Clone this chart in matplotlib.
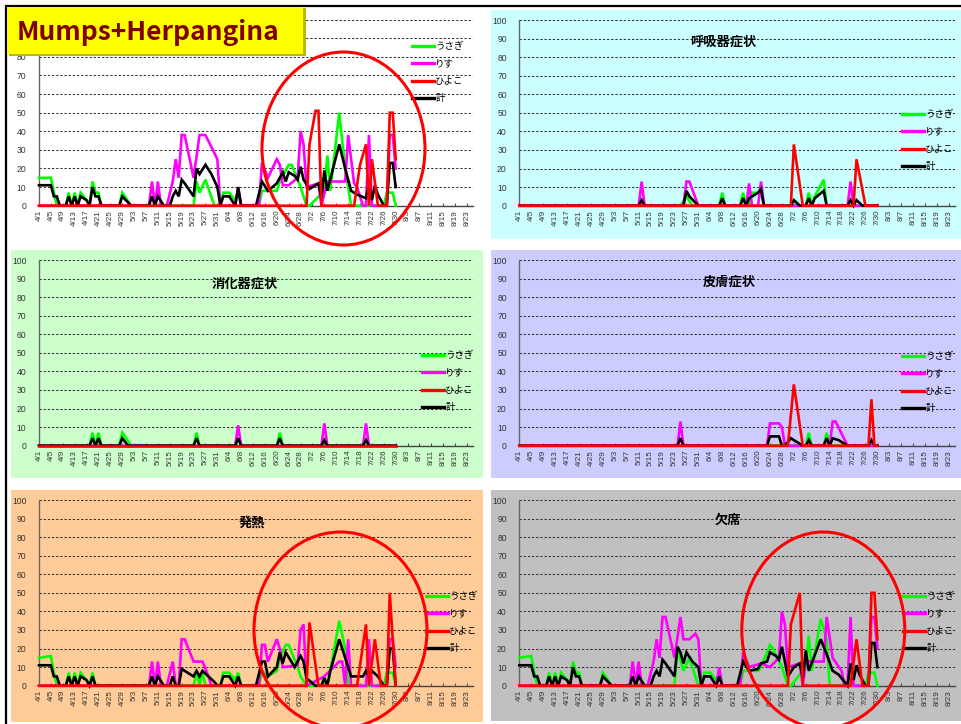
import matplotlib
matplotlib.use("Agg")
import matplotlib.pyplot as plt
from matplotlib.patches import Rectangle, Ellipse
from matplotlib.lines import Line2D

plt.rcParams["font.family"] = ["Liberation Sans", "Noto Sans CJK JP", "DejaVu Sans"]

W, H = 962, 724  # output size in px (dpi 100)

# x axis: one category per day from 4/1, labelled every 4th day
TICK_LABELS = ["4/1", "4/5", "4/9", "4/13", "4/17", "4/21", "4/25", "4/29",
               "5/3", "5/7", "5/11", "5/15", "5/19", "5/23", "5/27", "5/31",
               "6/4", "6/8", "6/12", "6/16", "6/20", "6/24", "6/28", "7/2",
               "7/6", "7/10", "7/14", "7/18", "7/22", "7/26", "7/30", "8/3",
               "8/7", "8/11", "8/15", "8/19", "8/23"]
TICK_DAYS = list(range(0, 148, 4))
N_DAYS = 146
Y_TICKS = list(range(0, 101, 10))

SERIES_NAMES = ["うさぎ", "りす", "ひよこ", "計"]

# ---- data: (day index from 4/1, count) ----
# Mumps+Herpangina
MUMPS_USAGI = [(0, 15), (4, 15), (5, 7), (6, 0), (9, 0), (10, 7), (11, 0), (12, 7), (13, 0), (14, 7),
               (16, 3), (17, 0), (18, 13), (19, 7), (20, 7), (21, 0), (27, 0), (28, 7), (31, 0),
               (52, 0), (53, 13), (54, 7), (56, 14), (59, 0), (61, 0), (62, 7), (64, 7), (66, 3),
               (67, 7), (68, 0), (74, 0), (75, 8), (80, 8), (81, 13), (84, 22), (85, 22), (88, 10),
               (90, 0), (91, 0), (96, 8), (97, 27), (98, 8), (101, 50), (103, 20), (105, 0),
               (116, 0), (117, 7), (119, 7), (120, 0)]
MUMPS_RISU = [(0, 0), (37, 0), (38, 13), (39, 0), (40, 13), (41, 0), (43, 0), (45, 13), (46, 25),
              (47, 15), (48, 38), (49, 38), (52, 15), (54, 38), (56, 38), (60, 25), (61, 0),
              (66, 0), (67, 10), (68, 0), (74, 0), (75, 23), (77, 15), (80, 25), (81, 22),
              (82, 11), (84, 11), (87, 15), (88, 40), (89, 33), (90, 10), (94, 12), (95, 0),
              (97, 13), (103, 13), (104, 38), (106, 12), (107, 10), (109, 0), (110, 0),
              (111, 38), (112, 0), (117, 0), (118, 38), (119, 38), (120, 20)]
MUMPS_HIYOKO = [(0, 0), (90, 0), (91, 33), (93, 51), (94, 51), (95, 0), (106, 0), (108, 22),
                (110, 33), (111, 0), (112, 25), (114, 0), (117, 0), (118, 50), (119, 50), (120, 25)]
MUMPS_KEI = [(0, 11), (4, 11), (5, 5), (6, 5), (7, 0), (9, 0), (10, 5), (11, 0), (12, 5), (13, 0),
             (14, 5), (16, 3), (17, 0), (18, 10), (19, 5), (20, 5), (21, 0), (27, 0), (28, 5),
             (31, 0), (37, 0), (38, 5), (39, 0), (40, 5), (42, 0), (44, 0), (45, 5), (46, 8),
             (47, 5), (48, 14), (49, 12), (52, 5), (53, 20), (54, 17), (56, 22), (58, 17),
             (60, 10), (61, 0), (62, 5), (64, 5), (66, 0), (67, 10), (68, 0), (73, 0), (75, 13),
             (77, 8), (80, 12), (82, 18), (83, 13), (84, 18), (86, 16), (87, 14), (88, 21),
             (89, 14), (91, 9), (94, 12), (95, 4), (96, 19), (97, 8), (101, 33), (103, 20),
             (105, 8), (107, 6), (110, 4), (111, 12), (112, 3), (113, 11), (114, 6), (116, 0),
             (117, 0), (118, 23), (119, 23), (120, 10)]

# 呼吸器症状
RESP_USAGI = [(0, 0), (54, 0), (56, 5), (58, 0), (67, 0), (68, 7), (69, 0), (74, 0), (75, 7),
              (76, 0), (77, 0), (78, 7), (81, 7), (82, 0), (96, 0), (97, 7), (98, 0), (99, 5),
              (102, 14), (103, 0), (120, 0)]
RESP_RISU = [(0, 0), (40, 0), (41, 13), (42, 0), (55, 0), (56, 13), (57, 13), (60, 0), (76, 0),
             (77, 12), (78, 0), (80, 0), (81, 13), (82, 0), (110, 0), (111, 13), (112, 0), (120, 0)]
RESP_HIYOKO = [(0, 0), (91, 0), (92, 33), (95, 0), (112, 0), (113, 25), (116, 0), (120, 0)]
RESP_KEI = [(0, 0), (40, 0), (41, 3), (42, 0), (55, 0), (56, 8), (57, 5), (60, 0), (67, 0),
            (68, 4), (69, 0), (74, 0), (75, 4), (76, 0), (77, 4), (78, 5), (80, 7), (81, 9),
            (82, 0), (91, 0), (92, 3), (94, 0), (96, 0), (97, 4), (98, 0), (99, 4), (102, 8),
            (103, 0), (110, 0), (111, 3), (112, 0), (113, 3), (115, 0), (120, 0)]

# 消化器症状
GI_USAGI = [(0, 0), (17, 0), (18, 7), (19, 0), (20, 7), (21, 0), (27, 0), (28, 7), (31, 0),
            (52, 0), (53, 7), (54, 0), (80, 0), (81, 7), (82, 0), (120, 0)]
GI_RISU = [(0, 0), (66, 0), (67, 11), (68, 0), (95, 0), (96, 12), (97, 0), (109, 0), (110, 12),
           (111, 0), (120, 0)]
GI_HIYOKO = [(0, 0), (120, 0)]
GI_KEI = [(0, 0), (17, 0), (18, 4), (19, 0), (20, 4), (21, 0), (27, 0), (28, 4), (30, 0),
          (52, 0), (53, 4), (54, 0), (66, 0), (67, 4), (68, 0), (80, 0), (81, 4), (82, 0),
          (95, 0), (96, 3), (97, 0), (109, 0), (110, 3), (111, 0), (120, 0)]

# 皮膚症状
SKIN_USAGI = [(0, 0), (96, 0), (97, 7), (98, 0), (102, 0), (103, 7), (104, 0), (120, 0)]
SKIN_RISU = [(0, 0), (53, 0), (54, 13), (55, 0), (83, 0), (84, 12), (87, 12), (88, 10), (89, 0),
             (104, 0), (105, 13), (106, 13), (110, 0), (120, 0)]
SKIN_HIYOKO = [(0, 0), (90, 0), (92, 33), (95, 0), (117, 0), (118, 25), (119, 0), (120, 0)]
SKIN_KEI = [(0, 0), (53, 0), (54, 4), (55, 0), (83, 0), (84, 5), (87, 5), (88, 0), (89, 0),
            (91, 4), (95, 0), (96, 0), (97, 3), (98, 0), (102, 0), (103, 4), (104, 0), (105, 4),
            (107, 3), (110, 0), (117, 0), (118, 3), (119, 0), (120, 0)]

# 発熱
FEVER_USAGI = [(0, 15), (4, 16), (5, 7), (6, 0), (9, 0), (10, 7), (11, 0), (12, 7), (13, 0),
               (14, 7), (16, 3), (17, 0), (18, 7), (19, 0), (52, 0), (53, 7), (54, 0), (55, 7),
               (56, 0), (61, 0), (62, 7), (64, 7), (66, 3), (67, 7), (68, 0), (74, 0), (75, 8),
               (77, 5), (80, 8), (81, 15), (83, 22), (84, 22), (87, 10), (88, 5), (90, 0),
               (95, 0), (96, 5), (97, 0), (98, 8), (101, 35), (103, 20), (104, 0), (116, 0),
               (117, 7), (119, 7), (120, 0)]
FEVER_RISU = [(0, 0), (37, 0), (38, 13), (39, 0), (40, 13), (41, 0), (43, 0), (45, 13), (46, 0),
              (47, 0), (48, 25), (49, 25), (52, 13), (55, 13), (57, 5), (58, 0), (74, 0),
              (75, 22), (76, 22), (77, 13), (80, 25), (81, 20), (82, 10), (87, 11), (88, 30),
              (89, 33), (90, 0), (96, 5), (101, 13), (102, 13), (103, 0), (104, 25), (105, 0),
              (110, 0), (111, 25), (112, 0), (117, 0), (118, 25), (119, 25), (120, 10)]
FEVER_HIYOKO = [(0, 0), (90, 0), (91, 34), (94, 0), (107, 0), (110, 33), (111, 0), (113, 25),
                (115, 0), (117, 0), (118, 50), (120, 0)]
FEVER_KEI = [(0, 11), (4, 11), (5, 5), (6, 5), (7, 0), (9, 0), (10, 5), (11, 0), (12, 5), (13, 0),
             (14, 5), (16, 3), (17, 0), (18, 5), (19, 0), (37, 0), (38, 5), (39, 0), (40, 5),
             (42, 0), (44, 0), (45, 5), (46, 0), (47, 0), (48, 9), (50, 7), (52, 5), (53, 8),
             (54, 5), (55, 8), (57, 5), (59, 2), (60, 0), (61, 0), (62, 5), (64, 5), (66, 0),
             (67, 5), (68, 0), (73, 0), (75, 13), (76, 13), (77, 5), (80, 10), (81, 18), (82, 12),
             (83, 18), (86, 10), (88, 16), (89, 13), (90, 4), (93, 0), (95, 0), (96, 4), (97, 0),
             (98, 8), (101, 25), (103, 15), (105, 5), (109, 5), (110, 8), (111, 5), (112, 8),
             (114, 5), (116, 0), (117, 0), (118, 20), (119, 20), (120, 0)]

# 欠席
ABS_USAGI = [(0, 15), (4, 16), (5, 7), (6, 0), (9, 0), (10, 7), (11, 0), (12, 7), (13, 0), (14, 7),
             (16, 3), (17, 0), (18, 13), (19, 7), (20, 7), (21, 0), (27, 0), (28, 7), (31, 0),
             (52, 0), (53, 20), (55, 8), (57, 15), (59, 5), (60, 0), (61, 0), (62, 7), (64, 7),
             (66, 3), (67, 7), (68, 0), (74, 0), (75, 8), (80, 8), (81, 10), (84, 22), (85, 20),
             (88, 10), (89, 5), (90, 0), (91, 0), (96, 10), (97, 27), (98, 8), (101, 36),
             (103, 25), (104, 0), (116, 0), (117, 7), (119, 7), (120, 0)]
ABS_RISU = [(0, 0), (37, 0), (38, 13), (39, 0), (40, 13), (41, 0), (43, 0), (45, 13), (46, 25),
            (47, 15), (48, 37), (49, 37), (52, 15), (54, 37), (55, 25), (57, 25), (59, 28),
            (60, 25), (61, 0), (66, 0), (67, 10), (68, 0), (74, 0), (75, 18), (77, 10), (81, 12),
            (84, 10), (87, 15), (88, 40), (89, 33), (90, 10), (94, 12), (95, 0), (96, 13),
            (102, 13), (103, 37), (105, 15), (108, 8), (109, 0), (110, 0), (111, 37), (112, 0),
            (117, 0), (118, 37), (119, 37), (120, 20)]
ABS_HIYOKO = [(0, 0), (90, 0), (91, 33), (94, 50), (95, 0), (111, 0), (113, 25), (115, 0),
              (117, 0), (118, 50), (119, 50), (120, 25)]
ABS_KEI = [(0, 11), (4, 11), (5, 5), (6, 5), (7, 0), (9, 0), (10, 5), (11, 0), (12, 5), (13, 0),
           (14, 5), (16, 3), (17, 0), (18, 10), (19, 5), (20, 5), (21, 0), (27, 0), (28, 5),
           (31, 0), (37, 0), (38, 5), (39, 0), (40, 5), (42, 0), (44, 0), (45, 5), (46, 8),
           (47, 5), (48, 14), (49, 12), (52, 5), (53, 21), (54, 18), (55, 12), (56, 18), (58, 13),
           (60, 10), (61, 0), (62, 5), (64, 5), (66, 0), (67, 5), (68, 0), (73, 0), (75, 13),
           (77, 8), (80, 9), (81, 12), (83, 13), (84, 18), (86, 16), (87, 14), (88, 21), (90, 5),
           (92, 10), (94, 12), (95, 4), (96, 19), (97, 8), (101, 25), (103, 17), (105, 8),
           (107, 6), (110, 0), (111, 12), (112, 3), (113, 11), (114, 6), (116, 0), (117, 0),
           (118, 23), (119, 23), (120, 10)]

# ---- layout (pixels) ----
# per series style: colour, z-order (ひよこ drawn last, its zero line shows on the axis)
STYLES = [dict(color="#00ff00", zorder=3), dict(color="#ff00ff", zorder=4),
          dict(color="#ff0000", zorder=6), dict(color="#000000", zorder=5)]

PANELS = [
    # top-left: 100/90 labels sit under the yellow title box in the original
    dict(title=None, series=[MUMPS_USAGI, MUMPS_RISU, MUMPS_HIYOKO, MUMPS_KEI], bg=None,
         box=(11, 10, 483, 238), axes=(39, 473, 19.7, 205.7), title_xy=None,
         legend_xy=(412, 42), hide_top_labels=True),
    dict(title="呼吸器症状", series=[RESP_USAGI, RESP_RISU, RESP_HIYOKO, RESP_KEI], bg="#ccffff",
         box=(491, 10, 962, 239), axes=(519.3, 955, 20, 205.7), title_xy=(723, 42),
         legend_xy=(902, 110)),
    dict(title="消化器症状", series=[GI_USAGI, GI_RISU, GI_HIYOKO, GI_KEI], bg="#ccffcc",
         box=(11, 250, 483, 478), axes=(39, 473, 260, 445.7), title_xy=(245, 284),
         legend_xy=(422, 351)),
    dict(title="皮膚症状", series=[SKIN_USAGI, SKIN_RISU, SKIN_HIYOKO, SKIN_KEI], bg="#ccccff",
         box=(491, 250, 962, 478), axes=(519.3, 955, 260, 445.7), title_xy=(729, 282),
         legend_xy=(902, 352)),
    dict(title="発熱", series=[FEVER_USAGI, FEVER_RISU, FEVER_HIYOKO, FEVER_KEI], bg="#ffcc99",
         box=(11, 490, 483, 722), axes=(39, 473, 500, 685.7), title_xy=(252, 523),
         legend_xy=(426, 592)),
    dict(title="欠席", series=[ABS_USAGI, ABS_RISU, ABS_HIYOKO, ABS_KEI], bg="#c0c0c0",
         box=(491, 490, 962, 721), axes=(519.3, 955, 500, 685.7), title_xy=(728, 520),
         legend_xy=(903, 592)),
]

# red rings drawn over the charts: centre x, centre y, width, height
RINGS = [(343.5, 148.5, 163, 193), (340.5, 630, 173, 196), (823.3, 630, 163, 196)]


fig = plt.figure(figsize=(W / 100, H / 100), dpi=100)

back = fig.add_axes([0, 0, 1, 1], zorder=-10)
back.set_xlim(0, W)
back.set_ylim(H, 0)
back.axis("off")

over = fig.add_axes([0, 0, 1, 1], zorder=20)
over.set_xlim(0, W)
over.set_ylim(H, 0)
over.axis("off")
over.patch.set_alpha(0)

# page frame (left and top edges visible)
back.plot([6, 6, W + 5], [H + 5, 6, 6], color="black", lw=1.6, solid_joinstyle="miter",
          clip_on=False)

for p in PANELS:
    x0, y0, x1, y1 = p["box"]
    if p["bg"]:
        back.add_patch(Rectangle((x0, y0), x1 - x0, y1 - y0, facecolor=p["bg"], edgecolor="none"))

    ax_l, ax_r, y_top, y_bot = p["axes"]
    ax = fig.add_axes([ax_l / W, 1 - y_bot / H, (ax_r - ax_l) / W, (y_bot - y_top) / H])
    ax.patch.set_alpha(0)
    for name, pts, st in zip(SERIES_NAMES, p["series"], STYLES):
        days = [d for d, _ in pts]
        vals = [v for _, v in pts]
        ax.plot(days, vals, lw=1.9, label=name, clip_on=False, solid_joinstyle="miter", **st)

    ax.set_xlim(0, N_DAYS)
    ax.set_ylim(0, 100)
    ax.set_yticks(Y_TICKS)
    if p.get("hide_top_labels"):
        ax.set_yticklabels([str(v) if v < 90 else "" for v in Y_TICKS])
    ax.set_xticks(TICK_DAYS)
    ax.set_xticklabels(TICK_LABELS, rotation=90, fontsize=5.8, color="#333333")
    ax.tick_params(axis="y", length=0, pad=9, labelsize=6.2, labelcolor="#333333")
    ax.tick_params(axis="x", direction="in", length=2.5, pad=3, color="#555555")
    ax.grid(axis="y", ls=(0, (2.2, 1.8)), color="#333333", lw=0.75)
    ax.set_axisbelow(True)
    for side in ("top", "right"):
        ax.spines[side].set_visible(False)
    ax.spines["left"].set_color("#666666")
    ax.spines["bottom"].set_color("#444444")
    ax.spines["left"].set_linewidth(1.0)
    ax.spines["bottom"].set_linewidth(1.0)

    if p["title"]:
        over.text(*p["title_xy"], p["title"], ha="center", va="center", fontsize=9.5,
                  fontweight="bold", family=["Noto Sans CJK JP"])

    handles = [Line2D([], [], color=st["color"], lw=2.4) for st in STYLES]
    lx, ly = p["legend_xy"]
    ax.legend(handles, SERIES_NAMES, loc="upper left", bbox_to_anchor=(lx / W, 1 - ly / H),
              bbox_transform=fig.transFigure, frameon=False, borderpad=0,
              borderaxespad=0, handlelength=2.3, handletextpad=0.15, labelspacing=0.88,
              prop=dict(family=["Noto Sans CJK JP"], size=6.8))

for cx, cy, w, h in RINGS:
    over.add_patch(Ellipse((cx, cy), w, h, facecolor="none", edgecolor="#ff0000", lw=2.2,
                           clip_on=False))

# yellow title box
over.add_patch(Rectangle((9, 8), 297, 48, facecolor="#b8b800", edgecolor="none"))
over.add_patch(Rectangle((7.5, 7), 296, 47, facecolor="#ffff00", edgecolor="none"))
over.text(17, 33, "Mumps+Herpangina", ha="left", va="center", fontsize=19, fontweight="bold",
          color="#800000", family=["Noto Sans CJK JP"])

fig.savefig("out.png", dpi=100)
